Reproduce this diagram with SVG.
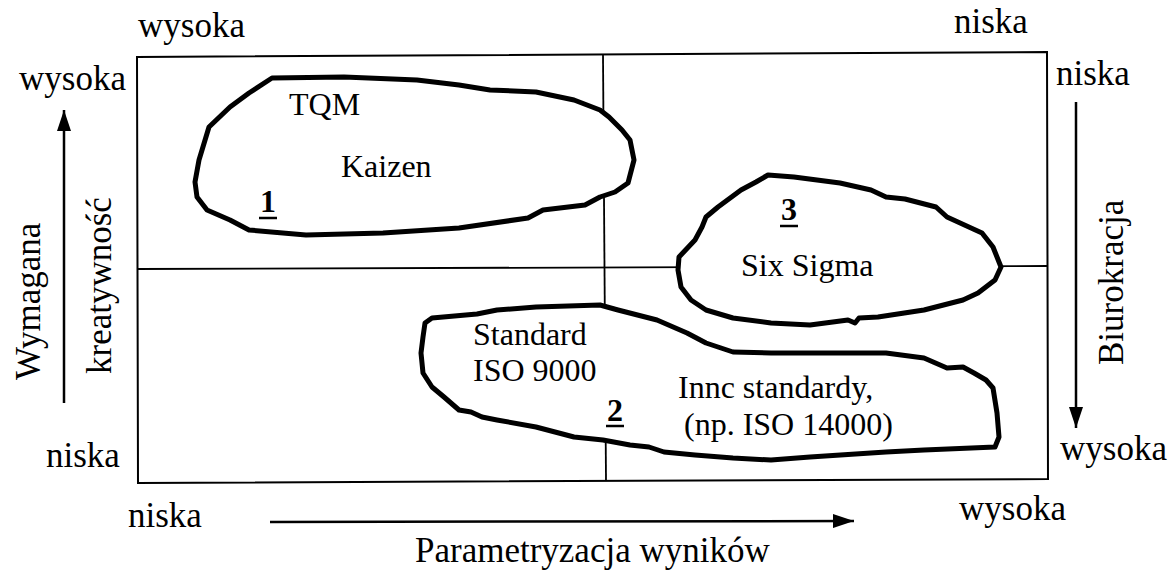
<svg xmlns="http://www.w3.org/2000/svg" width="1172" height="570" viewBox="0 0 1172 570" font-family="'Liberation Serif', 'Times New Roman', 'DejaVu Serif', serif">
<style>
text{font-family:"Liberation Serif","Times New Roman","DejaVu Serif",serif;fill:#000}
.lbl{font-size:35px}
.in{font-size:32px}
.num{font-size:32px;font-weight:bold}
.blob{fill:#fff;stroke:#000;stroke-width:5;stroke-linejoin:round}
.frame{fill:none;stroke:#000;stroke-width:2}
.div{fill:none;stroke:#000;stroke-width:1.8}
.arr{stroke:#000;stroke-width:2.5;fill:none}
.ul{stroke:#000;stroke-width:2.5}
</style>
<defs>
<marker id="ah" markerUnits="userSpaceOnUse" markerWidth="21" markerHeight="14" refX="21" refY="7" orient="auto">
<path d="M0,0 L21,7 L0,14 z" fill="#000"/>
</marker>
</defs>
<rect width="1172" height="570" fill="#fff"/>
<g id="frame">
<polygon class="frame" points="137,57 1047,52 1048,479 138,483"/>
<line class="div" x1="603" y1="55" x2="606" y2="481"/>
<line class="div" x1="137" y1="269" x2="1047" y2="266"/>
</g>
<g id="connectors">
<line class="arr" x1="64" y1="403" x2="64" y2="110" marker-end="url(#ah)"/>
<line class="arr" x1="1076" y1="102" x2="1076" y2="428" marker-end="url(#ah)"/>
<line class="arr" x1="270" y1="522" x2="854" y2="521" marker-end="url(#ah)"/>
</g>
<g id="blob1">
<polygon class="blob" points="272,78 344,77 417,80 459,85 490,90 536,92 574,100 600,110 609,117 622,130 630,140 634,160 628,183 615,192 600,197 585,205 543,210 528,218 459,228 383,233 306,235 249,230 230,220 207,210 197,197 195,182 199,160 209,127 230,107 249,93"/>
<text class="in" x="289" y="115">TQM</text>
<text class="in" x="341" y="177">Kaizen</text>
<text class="num" x="260" y="212">1</text>
<line class="ul" x1="259" y1="218" x2="277" y2="218"/>
</g>
<g id="blob3">
<polygon class="blob" points="679,257 695,240 702,227 706,217 718,207 741,190 756,182 768,175 794,177 840,183 871,190 886,197 905,199 936,207 947,217 982,233 993,247 1001,267 995,280 978,293 963,300 924,310 878,317 859,318 855,323 848,320 810,325 771,323 733,318 706,310 691,300 681,287 678,270"/>
<text class="num" x="781" y="220">3</text>
<line class="ul" x1="780" y1="226" x2="798" y2="226"/>
<text class="in" x="741" y="276">Six Sigma</text>
</g>
<g id="blob2">
<polygon class="blob" points="425,323 432,318 477,314 497,310 536,307 600,305 618,310 657,320 687,333 706,343 733,352 771,353 886,353 924,358 947,368 963,367 974,373 986,380 993,388 997,413 999,437 995,447 924,450 886,452 810,457 771,460 733,458 695,455 664,452 649,447 630,445 603,440 574,437 536,427 497,420 482,417 471,412 459,410 444,397 432,387 423,373 421,353 423,337"/>
<text class="in" x="473" y="345">Standard</text>
<text class="in" x="473" y="381">ISO 9000</text>
<text class="in" x="678" y="398">Innc standardy,</text>
<text class="in" x="684" y="435">(np. ISO 14000)</text>
<text class="num" x="607" y="421">2</text>
<line class="ul" x1="606" y1="426" x2="624" y2="426"/>
</g>
<g id="labels">
<text class="lbl" x="138" y="37">wysoka</text>
<text class="lbl" x="954" y="33">niska</text>
<text class="lbl" x="19" y="90">wysoka</text>
<text class="lbl" x="1056" y="85">niska</text>
<text class="lbl" x="46" y="467">niska</text>
<text class="lbl" x="1060" y="460">wysoka</text>
<text class="lbl" x="128" y="527">niska</text>
<text class="lbl" x="959" y="520">wysoka</text>
<text class="lbl" x="415" y="562">Parametryzacja wyników</text>
<text class="lbl" transform="translate(40,380) rotate(-90)">Wymagana</text>
<text class="lbl" transform="translate(111,374) rotate(-90)">kreatywność</text>
<text class="lbl" transform="translate(1123,365) rotate(-90)">Biurokracja</text>
</g>
</svg>
